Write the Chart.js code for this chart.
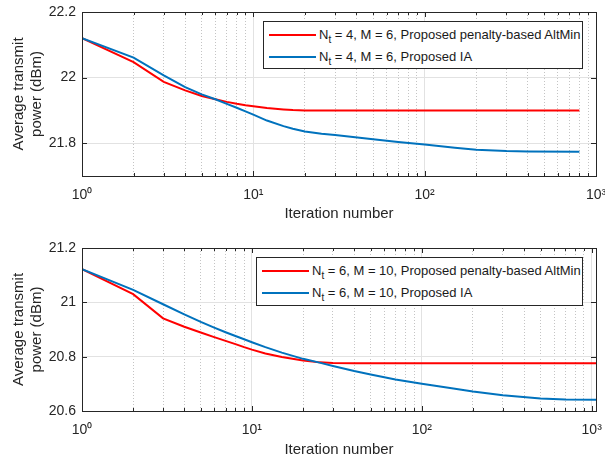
<!DOCTYPE html>
<html>
<head>
<meta charset="utf-8">
<script src="https://cdn.jsdelivr.net/npm/chart.js@4.4.0/dist/chart.umd.min.js"></script>
<style>
  body { margin: 0; background: #fff; }
  #wrap { position: relative; width: 605px; height: 457px; font-family: "Liberation Sans", Arial, sans-serif; }
  .panel { position: absolute; left: 0; width: 605px; }
  .legend { position: absolute; border: 1px solid #262626; background: #fff; box-sizing: border-box; }
  .legend .row { position: absolute; left: 0; height: 20px; width: 100%; }
  .legend .swatch { position: absolute; left: 5px; width: 47px; height: 2px; top: 9px; }
  .legend .txt { position: absolute; left: 55px; top: 2px; font-size: 13px; color: #1a1a1a; white-space: nowrap; line-height: 16px; }
  .legend sub { font-size: 10px; vertical-align: -4px; line-height: 0; }
</style>
</head>
<body>
<div id="wrap">
  <div class="panel" style="top:0;height:228px"><canvas id="top" width="605" height="228"></canvas></div>
  <div class="panel" style="top:228px;height:229px"><canvas id="bottom" width="605" height="229"></canvas></div>
  <div class="legend" id="legTop" style="left:263px;top:21px;width:320px;height:48px"></div>
  <div class="legend" id="legBottom" style="left:256px;top:257px;width:327px;height:49px"></div>
</div>
<script>
// ---- data ----
const xMajor = [1, 10, 100, 1000];
const xTickLabels = ['10\u2070', '10\u00b9', '10\u00b2', '10\u00b3'];
const xMinor = [2, 3, 4, 5, 6, 7, 8, 9, 20, 30, 40, 50, 60, 70, 80, 90, 200, 300, 400, 500, 600, 700, 800, 900];

// top panel: Nt = 4, M = 6
const topIter = [1, 2, 3, 4, 5, 6, 7, 8, 9, 10, 12, 15, 17, 20, 25, 30, 50, 70, 100, 150, 200, 300, 400, 800];
const topAltMin = [22.12, 22.047, 21.987, 21.961, 21.944, 21.934, 21.926, 21.920, 21.916, 21.913, 21.907, 21.903, 21.901, 21.900, 21.900, 21.900, 21.900, 21.900, 21.900, 21.900, 21.900, 21.900, 21.900, 21.900];
const topIA = [22.12, 22.061, 22.007, 21.971, 21.949, 21.934, 21.920, 21.908, 21.897, 21.887, 21.869, 21.852, 21.844, 21.836, 21.829, 21.825, 21.812, 21.804, 21.796, 21.786, 21.780, 21.776, 21.775, 21.774];
const topYTicks = [21.8, 22, 22.2];
const topLabels = ['N_t = 4, M = 6, Proposed penalty-based AltMin', 'N_t = 4, M = 6, Proposed IA'];

// bottom panel: Nt = 6, M = 10
const botIter = [1, 2, 3, 4, 5, 6, 7, 8, 9, 10, 12, 15, 20, 25, 30, 40, 50, 70, 100, 150, 200, 300, 500, 700, 1060];
const botAltMin = [21.122, 21.030, 20.941, 20.910, 20.889, 20.872, 20.858, 20.846, 20.835, 20.826, 20.812, 20.799, 20.786, 20.779, 20.777, 20.776, 20.776, 20.776, 20.776, 20.776, 20.776, 20.776, 20.776, 20.776, 20.776];
const botIA = [21.122, 21.046, 20.993, 20.956, 20.928, 20.907, 20.890, 20.876, 20.864, 20.853, 20.835, 20.815, 20.792, 20.778, 20.766, 20.747, 20.734, 20.716, 20.700, 20.684, 20.672, 20.658, 20.646, 20.642, 20.641];
const botYTicks = [20.6, 20.8, 21, 21.2];
const botLabels = ['N_t = 6, M = 10, Proposed penalty-based AltMin', 'N_t = 6, M = 10, Proposed IA'];

const RED = '#ff0000';
const BLUE = '#0072bd';
const FONT = '"Liberation Sans", Arial, Helvetica, sans-serif';
const AXIS = '#262626';

// box round the axes + inward ticks on all four sides, like the original
const boxPlugin = {
  id: 'box',
  afterDraw(chart) {
    const { ctx, chartArea: a, scales } = chart;
    ctx.save();
    ctx.strokeStyle = AXIS;
    ctx.lineWidth = 1;
    const line = (x1, y1, x2, y2) => { ctx.beginPath(); ctx.moveTo(x1, y1); ctx.lineTo(x2, y2); ctx.stroke(); };
    scales.x.ticks.forEach(t => {
      const px = Math.round(scales.x.getPixelForValue(t.value)) + 0.5;
      const len = xMajor.includes(t.value) ? 5 : 3;
      line(px, a.bottom, px, a.bottom - len);
      line(px, a.top, px, a.top + len);
    });
    scales.y.ticks.forEach(t => {
      const py = Math.round(scales.y.getPixelForValue(t.value)) + 0.5;
      line(a.left, py, a.left + 5, py);
      line(a.right, py, a.right - 5, py);
    });
    ctx.strokeRect(Math.round(a.left) + 0.5, Math.round(a.top) + 0.5, Math.round(a.right - a.left), Math.round(a.bottom - a.top));
    ctx.restore();
  }
};

function makePanel(id, iter, altMin, ia, labels, xMax, yMin, yMax, yTicks, pad, xHeight, titlePad) {
  const pts = vals => iter.map((x, i) => ({ x: x, y: vals[i] }));
  return new Chart(document.getElementById(id), {
    type: 'line',
    data: {
      datasets: [
        { label: labels[0], data: pts(altMin), borderColor: RED, borderWidth: 2, pointRadius: 0, tension: 0, order: 1 },
        { label: labels[1], data: pts(ia), borderColor: BLUE, borderWidth: 2, pointRadius: 0, tension: 0, order: 0 }
      ]
    },
    options: {
      responsive: false,
      animation: false,
      layout: { padding: pad },
      plugins: { legend: { display: false }, tooltip: { enabled: false } },
      scales: {
        x: {
          type: 'logarithmic',
          min: 1,
          max: xMax,
          afterBuildTicks: s => { s.ticks = xMajor.concat(xMinor).sort((a, b) => a - b).map(v => ({ value: v })); },
          afterFit: s => { s.height = xHeight; s.paddingLeft = 0; s.paddingRight = 0; },
          grid: {
            drawTicks: false,
            color: c => (c.tick && xMajor.includes(c.tick.value)) ? '#e2e2e2' : 'rgba(0,0,0,0)'
          },
          border: { display: false },
          ticks: {
            autoSkip: false,
            maxRotation: 0,
            padding: 11,
            color: AXIS,
            font: { size: 14, family: FONT },
            callback: v => { const i = xMajor.indexOf(v); return i >= 0 ? xTickLabels[i] : ''; }
          },
          title: { display: true, text: 'Iteration number', color: AXIS, font: { size: 15, family: FONT, lineHeight: 1 }, padding: titlePad }
        },
        xMinorGrid: {
          type: 'logarithmic',
          position: 'bottom',
          min: 1,
          max: xMax,
          afterBuildTicks: s => { s.ticks = xMinor.map(v => ({ value: v })); },
          afterFit: s => { s.height = 0; s.paddingLeft = 0; s.paddingRight = 0; },
          grid: { drawTicks: false, color: '#c4c4c4' },
          border: { display: false, dash: [1, 2] },
          ticks: { display: false }
        },
        y: {
          min: yMin,
          max: yMax,
          afterBuildTicks: s => { s.ticks = yTicks.map(v => ({ value: v })); },
          afterFit: s => { s.width = 82; s.paddingTop = 0; s.paddingBottom = 0; },
          grid: { drawTicks: false, color: '#e2e2e2' },
          border: { display: false },
          ticks: { padding: 6, color: AXIS, font: { size: 14, family: FONT }, callback: v => String(v) },
          title: {
            display: true,
            text: ['Average transmit', 'power (dBm)'],
            color: AXIS,
            font: { size: 15, family: FONT, lineHeight: 1.25 },
            padding: { top: 9, bottom: 0 }
          }
        }
      }
    },
    plugins: [boxPlugin]
  });
}

// legend built from the chart's own datasets, with the subscript t
function buildLegend(chart, elId) {
  const el = document.getElementById(elId);
  chart.data.datasets.forEach((ds, i) => {
    const row = document.createElement('div');
    row.className = 'row';
    row.style.top = (3 + i * 22) + 'px';
    const sw = document.createElement('div');
    sw.className = 'swatch';
    sw.style.background = ds.borderColor;
    const txt = document.createElement('div');
    txt.className = 'txt';
    txt.innerHTML = ds.label.replace(/_(\w)/, '<sub>$1</sub>');
    row.appendChild(sw);
    row.appendChild(txt);
    el.appendChild(row);
  });
}

const topChart = makePanel('top', topIter, topAltMin, topIA, topLabels, 1000, 21.7, 22.2, topYTicks,
  { top: 12, right: 9, left: 0, bottom: 0 }, 52, { top: 0, bottom: 7 });
const botChart = makePanel('bottom', botIter, botAltMin, botIA, botLabels, 1060, 20.6, 21.2, botYTicks,
  { top: 20, right: 9, left: 0, bottom: 0 }, 46, { top: 0, bottom: 0 });

buildLegend(topChart, 'legTop');
buildLegend(botChart, 'legBottom');
</script>
</body>
</html>
